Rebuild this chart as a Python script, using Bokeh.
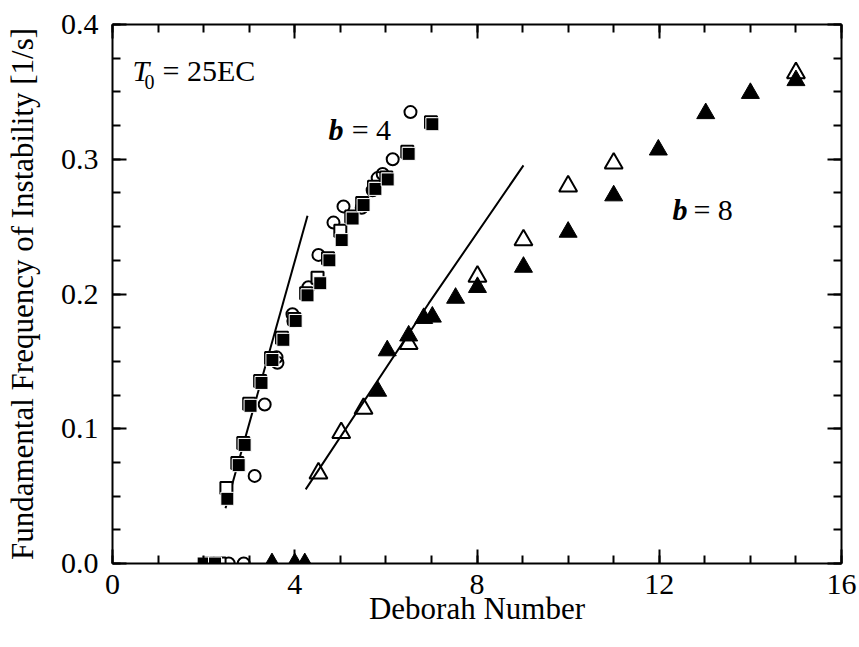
from bokeh.plotting import figure
from bokeh.models import (LinearAxis, FixedTicker, Range1d, Label,
                          NumeralTickFormatter)
from bokeh.embed import file_html
from bokeh.resources import INLINE

# ---------------- data ----------------
circ4_x = [2.55, 2.88, 3.12, 3.34, 3.60, 3.62, 3.73, 3.95, 3.97, 4.30, 4.52,
           4.85, 5.07, 5.47, 5.71, 5.82, 5.93, 6.15, 6.54]
circ4_y = [0.0, 0.0, 0.065, 0.118, 0.153, 0.149, 0.167, 0.185, 0.180, 0.205,
           0.229, 0.253, 0.265, 0.264, 0.277, 0.286, 0.289, 0.300, 0.335]

sqo4_x = [2.10, 2.35, 2.50, 2.74, 2.87, 3.00, 3.24, 3.48, 3.72, 3.99, 4.25,
          4.50, 4.73, 5.00, 5.24, 5.48, 5.74, 6.01, 6.47, 6.99]
sqo4_y = [0.0, 0.0, 0.056, 0.0745, 0.0895, 0.1185, 0.1355, 0.1525, 0.1675,
          0.1815, 0.2005, 0.212, 0.2265, 0.247, 0.2575, 0.2675, 0.2795,
          0.2865, 0.3055, 0.3275]

sqf4_x = [2.00, 2.25, 2.52, 2.77, 2.90, 3.03, 3.27, 3.51, 3.75, 4.02, 4.28,
          4.56, 4.76, 5.03, 5.27, 5.51, 5.77, 6.04, 6.50, 7.02]
sqf4_y = [0.0, 0.0, 0.048, 0.073, 0.088, 0.117, 0.134, 0.151, 0.166, 0.180,
          0.199, 0.208, 0.225, 0.240, 0.256, 0.266, 0.278, 0.285, 0.304, 0.326]

tro8_x = [4.52, 5.02, 5.51, 6.50, 8.01, 9.02, 10.0, 11.0, 15.0]
tro8_y = [0.067, 0.097, 0.115, 0.163, 0.213, 0.240, 0.280, 0.297, 0.364]

trf8_x = [3.50, 4.00, 4.22, 5.82, 6.03, 6.50, 6.83, 7.02, 7.53, 8.01, 9.02,
          10.0, 11.0, 11.98, 13.02, 14.0, 15.0]
trf8_y = [0.0, 0.0, 0.0, 0.128, 0.158, 0.169, 0.182, 0.183, 0.197, 0.205,
          0.220, 0.246, 0.273, 0.307, 0.334, 0.349, 0.3585]

line4_x = [2.48, 4.28]
line4_y = [0.041, 0.258]
line8_x = [4.24, 6.94, 9.02]
line8_y = [0.055, 0.193, 0.2955]

x_major = [0, 4, 8, 12, 16]
x_minor = [0, 1, 2, 3, 4, 5, 6, 7, 8, 9, 10, 11, 12, 13, 14, 15, 16]
y_major = [0.0, 0.1, 0.2, 0.3, 0.4]
y_minor = [0.0, 0.025, 0.05, 0.075, 0.1, 0.125, 0.15, 0.175, 0.2, 0.225,
           0.25, 0.275, 0.3, 0.325, 0.35, 0.375, 0.4]

FONT = "Liberation Serif"

p = figure(width=857, height=640, x_range=Range1d(0, 16),
           y_range=Range1d(0, 0.4), output_backend="svg",
           toolbar_location=None, x_axis_location=None, y_axis_location=None,
           min_border_left=112, min_border_right=16, min_border_top=24,
           min_border_bottom=77)
p.xgrid.visible = False
p.ygrid.visible = False
p.outline_line_color = None
p.background_fill_color = "white"
p.border_fill_color = "white"


def style_axis(ax, show_labels):
    ax.axis_line_width = 2
    ax.axis_line_color = "black"
    ax.major_tick_in = 14
    ax.major_tick_out = 0
    ax.minor_tick_in = 8
    ax.minor_tick_out = 0
    ax.major_tick_line_width = 2
    ax.minor_tick_line_width = 2
    ax.major_label_text_font = FONT
    ax.major_label_text_color = "black"
    ax.axis_label_text_font = FONT
    ax.axis_label_text_font_style = "normal"
    ax.axis_label_text_color = "black"
    if not show_labels:
        ax.major_label_text_font_size = "0px"
        ax.major_label_standoff = 0


xb = LinearAxis(ticker=FixedTicker(ticks=x_major, minor_ticks=x_minor),
                axis_label="Deborah Number")
style_axis(xb, True)
xb.major_label_text_font_size = "30px"
xb.axis_label_text_font_size = "31px"
xb.major_label_standoff = 11
xb.axis_label_standoff = -6
p.add_layout(xb, "below")

yl = LinearAxis(ticker=FixedTicker(ticks=y_major, minor_ticks=y_minor),
                formatter=NumeralTickFormatter(format="0.0"),
                axis_label="Fundamental Frequency of Instability [1/s]")
style_axis(yl, True)
yl.major_label_text_font_size = "30px"
yl.axis_label_text_font_size = "31px"
yl.major_label_standoff = 14
yl.axis_label_standoff = 18
p.add_layout(yl, "left")

xt = LinearAxis(ticker=FixedTicker(ticks=x_major, minor_ticks=x_minor),
                major_label_overrides={t: "" for t in x_major})
style_axis(xt, False)
p.add_layout(xt, "above")

yr = LinearAxis(ticker=FixedTicker(ticks=y_major, minor_ticks=y_minor),
                major_label_overrides={t: "" for t in y_major})
style_axis(yr, False)
p.add_layout(yr, "right")

# lines
p.line(line4_x, line4_y, line_color="black", line_width=2)
p.line(line8_x, line8_y, line_color="black", line_width=2)

# markers
p.scatter(circ4_x, circ4_y, marker="circle", size=12, fill_color=None,
          line_color="black", line_width=2)
p.scatter(sqo4_x, sqo4_y, marker="square", size=12, fill_color="white",
          line_color="black", line_width=2)
p.scatter(sqf4_x, sqf4_y, marker="square", size=13, fill_color="black",
          line_color="white", line_width=1)
p.scatter(tro8_x, tro8_y, marker="triangle", size=18, fill_color=None,
          line_color="black", line_width=2)
p.scatter(trf8_x, trf8_y, marker="triangle", size=18, fill_color="black",
          line_color="black", line_width=1)

# annotations
p.add_layout(Label(x=0.44, y=0.366, text="T", text_font=FONT,
                   text_font_style="italic", text_font_size="30px",
                   text_color="black", text_baseline="alphabetic"))
p.add_layout(Label(x=0.70, y=0.357, text="0", text_font=FONT,
                   text_font_size="20px", text_color="black",
                   text_baseline="alphabetic"))
p.add_layout(Label(x=1.10, y=0.366, text="= 25EC", text_font=FONT,
                   text_font_size="30px", text_color="black",
                   text_baseline="alphabetic"))

p.add_layout(Label(x=4.74, y=0.322, text="b", text_font=FONT,
                   text_font_style="bold italic", text_font_size="30px",
                   text_color="black", text_baseline="alphabetic"))
p.add_layout(Label(x=5.25, y=0.322, text="= 4", text_font=FONT,
                   text_font_size="30px", text_color="black",
                   text_baseline="alphabetic"))

p.add_layout(Label(x=12.29, y=0.263, text="b", text_font=FONT,
                   text_font_style="bold italic", text_font_size="30px",
                   text_color="black", text_baseline="alphabetic"))
p.add_layout(Label(x=12.75, y=0.263, text="= 8", text_font=FONT,
                   text_font_size="30px", text_color="black",
                   text_baseline="alphabetic"))

open("out.html", "w").write(file_html(p, INLINE))
